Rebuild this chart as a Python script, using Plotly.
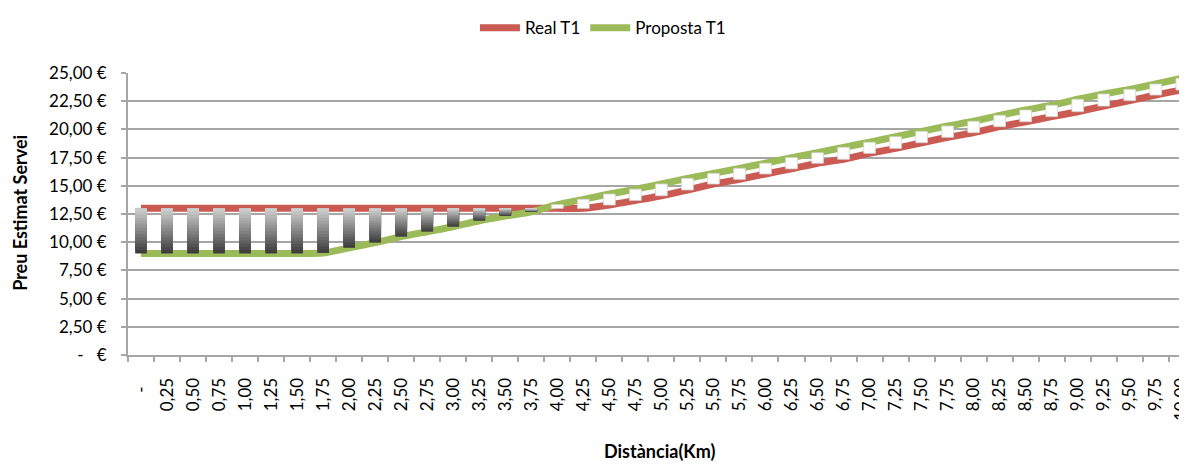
import plotly.graph_objects as go

# ---- data ----
dist_labels = ["-\u00a0\u00a0"] + [f"{d/4:.2f}".replace(".", ",") for d in range(1, 41)]
real_t1 = [13.0] * 18 + [13.3, 13.7, 14.12, 14.63, 15.16, 15.57, 16.05, 16.5, 17.0,
                         17.35, 17.88, 18.32, 18.82, 19.3, 19.71, 20.24, 20.68, 21.13,
                         21.57, 22.07, 22.55, 23.05, 23.49]
proposta_t1 = [9.0] * 7 + [9.05, 9.5, 9.96, 10.49, 10.93, 11.37, 11.9, 12.32, 12.7,
                           13.33, 13.8,
                           14.27, 14.7, 15.16, 15.66, 16.1, 16.55, 17.0, 17.5, 17.93,
                           18.41, 18.86, 19.35, 19.83, 20.3, 20.72, 21.25, 21.72, 22.14,
                           22.67, 23.14, 23.55, 24.02, 24.53]
y_tickvals = [0, 2.5, 5, 7.5, 10, 12.5, 15, 17.5, 20, 22.5, 25]
y_ticktext = ["-\u00a0\u00a0\u00a0€", "2,50 €", "5,00 €", "7,50 €", "10,00 €", "12,50 €",
              "15,00 €", "17,50 €", "20,00 €", "22,50 €", "25,00 €"]

FONT = "Lato"
RED = "#CB5A52"
GREEN = "#9BBB59"
GRID = "#a6a6a6"

fig = go.Figure()

# lines (main axes, drawn under the up/down bars)
fig.add_trace(go.Scatter(x=dist_labels, y=real_t1, name="Real T1", mode="lines",
                         line=dict(color=RED, width=7, shape="spline", smoothing=0.6),
                         xaxis="x", yaxis="y"))
fig.add_trace(go.Scatter(x=dist_labels, y=proposta_t1, name="Proposta T1", mode="lines",
                         line=dict(color=GREEN, width=7, shape="spline", smoothing=0.6),
                         xaxis="x", yaxis="y"))

# down bars (Real > Proposta): gray gradient, built from stacked slices
N = 14
for k in range(N):
    frac = k / N
    t = k / (N - 1)
    c = int(62 + (205 - 62) * t)
    bases, heights = [], []
    for r, p in zip(real_t1, proposta_t1):
        if r > p:
            d = r - p
            bases.append(p + d * frac)
            heights.append(d * (1 - frac))
        else:
            bases.append(None)
            heights.append(None)
    fig.add_trace(go.Bar(x=dist_labels, y=heights, base=bases, width=0.45,
                         marker=dict(color=f"rgb({c},{c},{c})", line=dict(width=0)),
                         showlegend=False, hoverinfo="skip", xaxis="x2", yaxis="y2"))

# up bars (Proposta > Real): white
up_base, up_h = [], []
for r, p in zip(real_t1, proposta_t1):
    if p > r:
        up_base.append(r)
        up_h.append(p - r)
    else:
        up_base.append(None)
        up_h.append(None)
fig.add_trace(go.Bar(x=dist_labels, y=up_h, base=up_base, width=0.45,
                     marker=dict(color="white", line=dict(width=0.8, color="#d4d4d4")),
                     showlegend=False, hoverinfo="skip", xaxis="x2", yaxis="y2"))

XRANGE = [-0.5, 40.2]
fig.update_layout(
    width=1179, height=457,
    margin=dict(l=120, r=0, t=65, b=110),
    paper_bgcolor="white", plot_bgcolor="white",
    font=dict(family=FONT, size=17, color="black"),
    barmode="overlay",
    showlegend=True,
    legend=dict(orientation="h", x=0.4485, xanchor="center", y=1.159, yanchor="middle",
                font=dict(size=17, family=FONT), itemwidth=40, bgcolor="rgba(0,0,0,0)"),
    xaxis=dict(type="category", range=XRANGE, tickangle=-90, tickson="boundaries",
               ticks="outside", ticklen=5, tickcolor=GRID, tickwidth=1.5,
               showline=True, linecolor=GRID, linewidth=2, showgrid=False,
               ticklabelstandoff=14, tickfont=dict(size=17), automargin=False,
               ticklabeloverflow="allow"),
    yaxis=dict(range=[0, 25], tickvals=y_tickvals, ticktext=y_ticktext,
               ticks="outside", ticklen=5, tickcolor=GRID, tickwidth=1.5,
               showline=True, linecolor=GRID, linewidth=2,
               showgrid=True, gridcolor=GRID, gridwidth=1.5, zeroline=False,
               ticklabelstandoff=11, tickfont=dict(size=17), automargin=False),
    xaxis2=dict(type="category", overlaying="x", matches="x", visible=False, range=XRANGE),
    yaxis2=dict(overlaying="y", range=[0, 25], visible=False),
    annotations=[
        dict(text="<b>Preu Estimat Servei</b>", textangle=-90, xref="paper", yref="paper",
             x=-0.102, y=0.504, xanchor="center", yanchor="middle", showarrow=False,
             font=dict(size=18, family=FONT)),
        dict(text="<b>Distància(Km)</b>", xref="paper", yref="paper",
             x=0.502, y=-0.342, xanchor="center", yanchor="middle", showarrow=False,
             font=dict(size=18, family=FONT)),
    ],
)

fig.write_html("out.html")
